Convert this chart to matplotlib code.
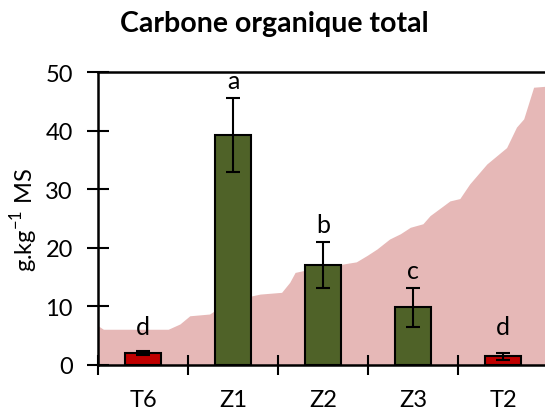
#!/usr/bin/env python3
"""
Carbone organique total - bars with error bars over a background profile
"""
import matplotlib
matplotlib.use('Agg')
import matplotlib.pyplot as plt

sites = ['T6', 'Z1', 'Z2', 'Z3', 'T2']
cot = [2.05, 39.25, 17.06, 9.84, 1.48]
cot_err = [0.3, 6.3, 3.95, 3.3, 0.55]
letters = ['d', 'a', 'b', 'c', 'd']
bar_colors = ['#C00000', '#4F6228', '#4F6228', '#4F6228', '#C00000']

# background profile (sorted values), x in category units
profile_x = [-0.5, -0.44, 0.28, 0.41, 0.52, 0.74, 0.80, 1.21, 1.30, 1.54, 1.63,
             1.69, 1.78, 2.21, 2.37, 2.49, 2.60, 2.74, 2.86, 2.97, 3.11, 3.19,
             3.34, 3.41, 3.52, 3.63, 3.82, 4.04, 4.15, 4.23, 4.34, 4.5]
profile_y = [6.7, 6.1, 6.1, 7.0, 8.4, 8.7, 9.3, 11.8, 12.1, 12.4, 14.1,
             15.8, 16.1, 17.2, 17.6, 18.7, 19.8, 21.5, 22.4, 23.5, 24.1, 25.5,
             27.2, 28.0, 28.4, 30.9, 34.3, 37.1, 40.6, 42.0, 47.4, 47.6]


def main():
  plt.rcParams['font.family'] = ['Lato', 'DejaVu Sans']
  fig = plt.figure(figsize=(5.45, 4.14), dpi=100)
  ax = fig.add_axes([98 / 545, 48 / 414, 450 / 545, 293 / 414])

  ax.fill_between(profile_x, profile_y, 0, color='#E6B8B7', lw=0, zorder=0)

  x = list(range(len(sites)))
  ax.bar(x, cot, width=0.41, color=bar_colors, edgecolor='black',
         linewidth=1.5, zorder=2)
  ax.errorbar(x, cot, yerr=cot_err, fmt='none', ecolor='black',
              elinewidth=1.5, capsize=5, capthick=1.5, zorder=3)
  for xi, v, e, lab in zip(x, cot, cot_err, letters):
    ax.text(xi, max(v + e + 3.0, 6.6), lab, ha='center', va='center',
            fontsize=18, zorder=4)

  ax.set_xlim(-0.5, 4.5)
  ax.set_ylim(0, 50)
  ax.set_yticks(range(0, 51, 10))
  ax.set_xticks([i + 0.5 for i in range(-1, 5)], minor=False)
  ax.set_xticklabels([])
  ax.set_xticks(x, minor=True)
  ax.set_xticklabels(sites, minor=True)
  ax.tick_params(axis='x', which='major', direction='inout', length=15,
                 width=1.5)
  ax.tick_params(axis='x', which='minor', length=0, pad=17, labelsize=17)
  ax.tick_params(axis='y', direction='inout', length=16, width=1.5,
                 pad=10, labelsize=17)
  for side in ['left', 'bottom', 'top']:
    ax.spines[side].set_linewidth(1.8)
  ax.spines['right'].set_visible(False)
  ax.set_ylabel('g.kg$^{\\mathregular{-1}}$ MS', fontsize=17, labelpad=4)

  fig.text(0.503, 0.9227, 'Carbone organique total', ha='center',
           va='baseline', fontsize=20.5, fontweight='bold')
  plt.savefig('out.png', dpi=100)


if __name__ == '__main__':
  main()
